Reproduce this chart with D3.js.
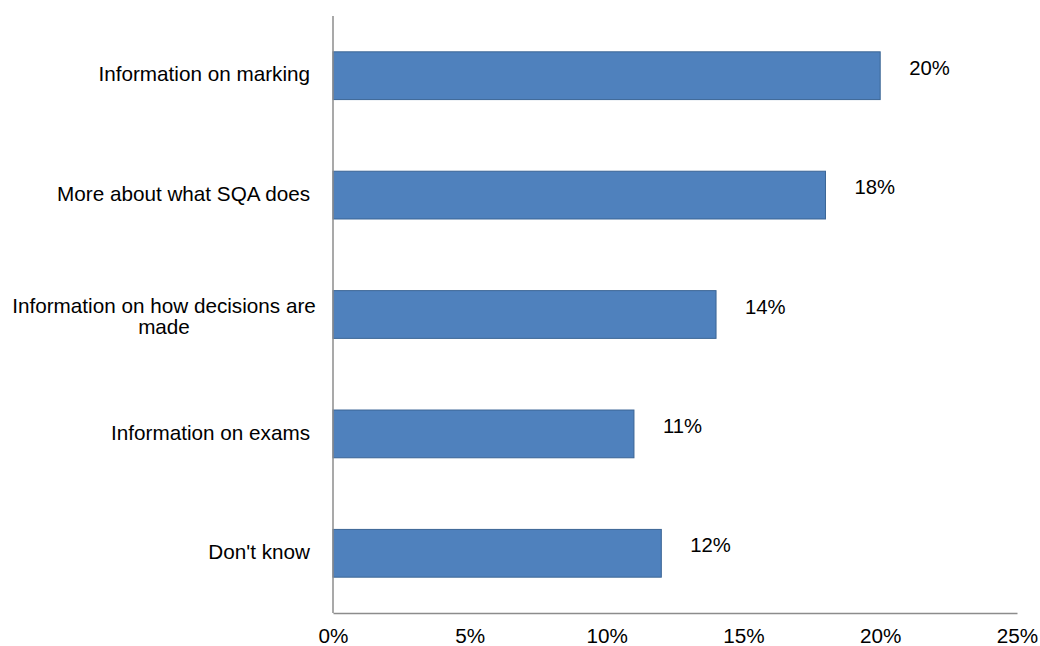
<!DOCTYPE html>
<html>
<head>
<meta charset="utf-8">
<script src="https://cdn.jsdelivr.net/npm/d3@7"></script>
<style>
  html, body { margin: 0; padding: 0; background: #fff; }
  text { font-family: "Liberation Sans", Arial, sans-serif; fill: #000; }
</style>
</head>
<body>
<svg id="chart" width="1040" height="646"></svg>
<script>
// Survey responses: what information people would like
const categories = [
  ["Information on marking"],
  ["More about what SQA does"],
  ["Information on how decisions are", "made"],
  ["Information on exams"],
  ["Don't know"]
];
const values = [20, 18, 14, 11, 12];
const tickValues = [0, 5, 10, 15, 20, 25];
const tickLabels = ["0%", "5%", "10%", "15%", "20%", "25%"];

const svg = d3.select("#chart");
const plotLeft = 333, plotRight = 1017, plotTop = 16, plotBottom = 613;
const fontSize = 20.7;

const x = d3.scaleLinear().domain([0, 25]).range([plotLeft, plotRight]);
const y = d3.scaleBand()
  .domain(d3.range(categories.length))
  .range([plotTop, plotBottom])
  .paddingInner(0.6)
  .paddingOuter(0.3);

// bars
svg.append("g").selectAll("rect")
  .data(values)
  .join("rect")
  .attr("x", x(0))
  .attr("y", (d, i) => y(i))
  .attr("width", d => x(d) - x(0))
  .attr("height", y.bandwidth())
  .attr("fill", "#4F81BD")
  .attr("stroke", "#3B6595")
  .attr("stroke-width", 1);

// value labels
svg.append("g").selectAll("text")
  .data(values)
  .join("text")
  .attr("x", d => x(d) + 29)
  .attr("y", (d, i) => y(i) + y.bandwidth() / 2 - 8)
  .attr("dy", "0.35em")
  .attr("font-size", 20.3)
  .text(d => d + "%");

// category labels: single lines end at the axis, wrapped lines are centred
const labelRight = 310, labelCentre = 164, lineHeight = 21;
svg.append("g").selectAll("text")
  .data(categories)
  .join("text")
  .attr("font-size", fontSize)
  .attr("text-anchor", d => d.length > 1 ? "middle" : "end")
  .each(function(lines, i) {
    const t = d3.select(this);
    const cy = y(i) + y.bandwidth() / 2 - 1.5 + (lines.length > 1 ? 3 : 0);
    const y0 = cy - (lines.length - 1) * lineHeight / 2;
    lines.forEach((ln, j) => {
      t.append("tspan")
        .attr("x", lines.length > 1 ? labelCentre : labelRight)
        .attr("y", y0 + j * lineHeight)
        .attr("dy", "0.35em")
        .text(ln);
    });
  });

// x axis
const xAxis = d3.axisBottom(x)
  .tickValues(tickValues)
  .tickFormat((d, i) => tickLabels[i])
  .tickSize(0)
  .tickPadding(15);
const gx = svg.append("g").attr("transform", `translate(0,${plotBottom})`).call(xAxis);
gx.select(".domain").attr("stroke", "#8C8C8C").attr("stroke-width", 1.5);
gx.selectAll("text").attr("font-size", fontSize).attr("font-family", "Liberation Sans, Arial, sans-serif");

// y axis line
svg.append("line")
  .attr("x1", plotLeft).attr("x2", plotLeft)
  .attr("y1", plotTop).attr("y2", plotBottom)
  .attr("stroke", "#8C8C8C")
  .attr("stroke-width", 1.5);
</script>
</body>
</html>
